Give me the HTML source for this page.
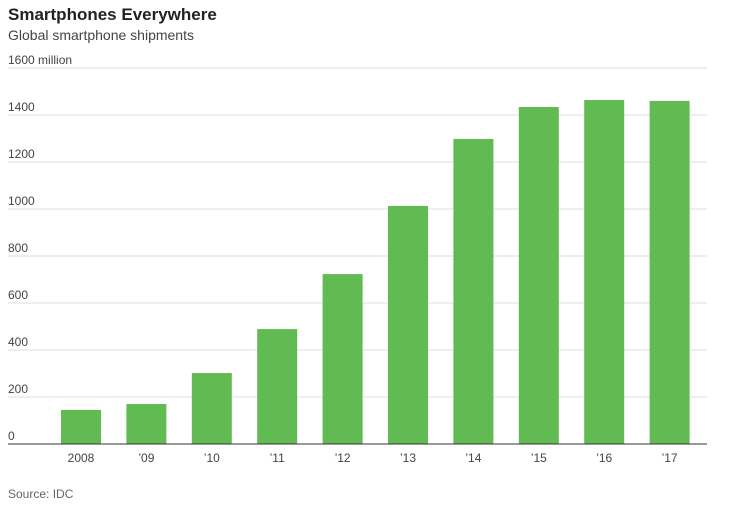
<!DOCTYPE html>
<html><head><meta charset="utf-8"><style>
body{margin:0;background:#fff;width:735px;height:507px;overflow:hidden;font-family:"Liberation Sans",sans-serif;}
</style></head><body>
<svg id="chart" width="735" height="507">
<text x="8" y="20" font-size="17" font-weight="bold" fill="#222">Smartphones Everywhere</text>
<text x="8" y="40" font-size="14" fill="#444">Global smartphone shipments</text>
<text x="8" y="498" font-size="12" fill="#666">Source: IDC</text>
</svg>
<script>
const categories=["2008","’09","’10","’11","’12","’13","’14","’15","’16","’17"];
const shipments=[145,170,302,489,723,1013,1298,1434,1464,1460];
const yTicks=[0,200,400,600,800,1000,1200,1400,1600];
const svg=document.getElementById('chart');
const NS='http://www.w3.org/2000/svg';
const y0=444,yTop=68,maxV=1600;
const y=v=>y0-(v/maxV)*(y0-yTop);
const x=i=>61+i*65.4;
const bw=40;
function mk(t,a){const e=document.createElementNS(NS,t);for(const k in a)e.setAttribute(k,a[k]);svg.appendChild(e);return e;}
yTicks.forEach(v=>{
  const l=mk('line',{x1:8,x2:707,y1:y(v),y2:y(v),stroke:v===0?'#333':'#ddd','stroke-width':1});
  
  
  const t=mk('text',{x:8,y:y(v)-4,'font-size':12,fill:'#444'});
  t.textContent=v===1600?'1600 million':String(v);
  
  
});
shipments.forEach((v,i)=>{
  const r=mk('rect',{x:x(i),y:y(v),width:bw,height:y0-y(v),fill:'#62bb52'});
  
  
  const t=mk('text',{x:x(i)+bw/2,y:462,'font-size':12,fill:'#444','text-anchor':'middle'});
  t.textContent=categories[i];
  
  
});
const base=mk('line',{x1:8,x2:707,y1:y0,y2:y0,stroke:'#333','stroke-width':1});


</script>
</body></html>
